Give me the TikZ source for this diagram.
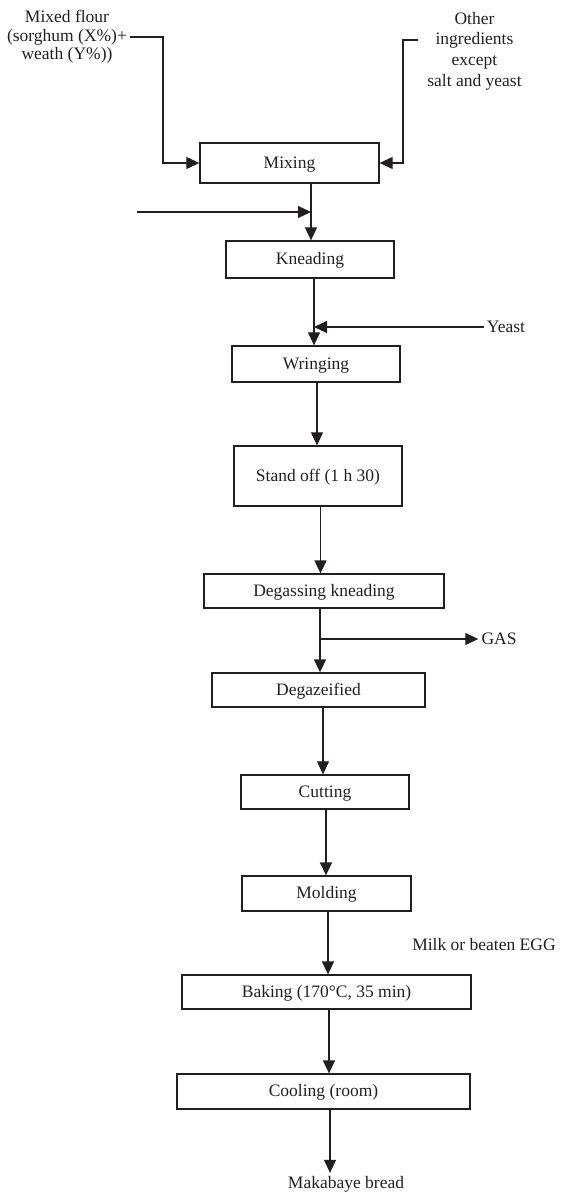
\documentclass[tikz,border=0pt]{standalone}
\usepackage{fontspec}
\setmainfont{Liberation Serif}
\usetikzlibrary{arrows.meta}
\definecolor{ink}{RGB}{35,31,32}
\begin{document}
\begin{tikzpicture}[x=1pt,y=-1pt,
  every node/.style={font=\fontsize{17.5}{18.5}\selectfont, text=ink},
  stepbox/.style={draw=ink, line width=1.3pt, inner sep=0pt, minimum width=#1, text height=12pt, text depth=2pt},
  lbl/.style={inner sep=3pt, align=center},
  arr/.style={draw=ink, line width=1.1pt, -{Triangle[length=13pt,width=12pt]}},
  arrb/.style={arr, line width=1.5pt},
  ln/.style={draw=ink, line width=1.1pt}]
\useasboundingbox (0,0) rectangle (564,1193);
% boxes
\node[stepbox=179pt, minimum height=40pt] (mix) at (289.5,163) {Mixing};
\node[stepbox=168pt, minimum height=37pt] (kn) at (310,259.5) {Kneading};
\node[stepbox=168pt, minimum height=36pt] (wr) at (316,364) {Wringing};
\node[stepbox=168pt, minimum height=60pt] (so) at (318,476) {Stand off (1 h 30)};
\node[stepbox=240pt, minimum height=34pt] (dg) at (324,591) {Degassing kneading};
\node[stepbox=213pt, minimum height=34pt] (dz) at (318.5,690) {Degazeified};
\node[stepbox=168pt, minimum height=34pt] (cu) at (325,792) {Cutting};
\node[stepbox=169pt, minimum height=35pt] (mo) at (326.5,893.5) {Molding};
\node[stepbox=289pt, minimum height=34pt] (ba) at (326.5,992) {Baking (170°C, 35 min)};
\node[stepbox=293pt, minimum height=35pt] (co) at (323.5,1091.5) {Cooling (room)};
% labels
\node[lbl] (flour) at (67,37) {Mixed flour\\(sorghum (X\%)+\\weath (Y\%))};
\node[lbl, font=\fontsize{17.5}{20.7}\selectfont] (oth) at (474.5,51) {Other\\ingredients\\except\\salt and yeast};
\node[lbl] (yeast) at (506,327) {Yeast};
\node[lbl] (gas) at (499,639) {GAS};
\node[lbl] (milk) at (484,945) {Milk or beaten EGG};
\node[lbl] (bread) at (346,1184) {Makabaye bread};
% side inputs
\coordinate (fl) at (163,37);
\draw[arr] (flour.east) -- (fl) |- (mix.west);
\coordinate (oi) at (418,40);
\coordinate (oc) at (403,40);
\draw[arr] (oi) -- (oc) |- (mix.east);
\coordinate (lin) at (137,212);
\coordinate (lj) at (311,212);
\draw[arr] (lin) -- (lj);
\coordinate (yj) at (314,327);
\draw[arr] (yeast.west) -- (yj);
\coordinate (gj) at (320,639);
\draw[arr] (gj) -- (gas.west);
% main flow
\draw[arr] (mix.south -| 311,0) -- (kn.north -| 311,0);
\draw[arr] (kn.south -| 314,0) -- (wr.north -| 314,0);
\draw[arr] (wr.south -| 317,0) -- (so.north -| 317,0);
\draw[arrb] (so.south -| 320.5,0) -- (dg.north -| 320.5,0);
\draw[arrb] (dg.south -| 320,0) -- (dz.north -| 320,0);
\draw[arr] (dz.south -| 323,0) -- (cu.north -| 323,0);
\draw[arrb] (cu.south -| 326,0) -- (mo.north -| 326,0);
\draw[arrb] (mo.south -| 328,0) -- (ba.north -| 328,0);
\draw[arrb] (ba.south -| 329,0) -- (co.north -| 329,0);
\draw[arr] (co.south -| 330,0) -- (bread.north -| 330,0);
\end{tikzpicture}
\end{document}
